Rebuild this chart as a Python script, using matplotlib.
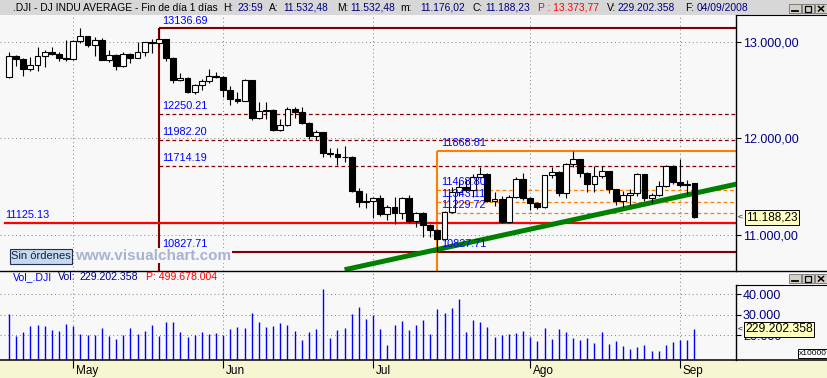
import numpy as np
import pandas as pd
import matplotlib
matplotlib.use("Agg")
import matplotlib.pyplot as plt
from matplotlib.patches import Rectangle
from matplotlib.lines import Line2D
from matplotlib.ticker import FuncFormatter

plt.rcParams['font.family'] = ['Liberation Sans', 'DejaVu Sans']

# --- datos: sesiones del .DJI 18/04/2008 - 04/09/2008 (sin festivos) ---
festivos = ['2008-05-26', '2008-07-04', '2008-09-01']
fechas = pd.bdate_range('2008-04-18', '2008-09-04')
fechas = fechas[~fechas.isin(pd.to_datetime(festivos))]
meses = {5: 'May', 6: 'Jun', 7: 'Jul', 8: 'Ago', 9: 'Sep'}

apertura = [12632, 12849, 12825, 12720, 12763, 12848, 12891, 12871, 12832, 12820,
            13010, 13058, 12969, 13020, 12815, 12866, 12745, 12876, 12832, 12898,
            12992, 12986, 13028, 12828, 12601, 12625, 12479, 12548, 12594, 12646,
            12638, 12503, 12402, 12391, 12604, 12209, 12280, 12289, 12083, 12141,
            12307, 12269, 12160, 12029, 12063, 11843, 11842, 11807, 11811, 11453,
            11346, 11350, 11382, 11215, 11288, 11231, 11384, 11147, 11229, 11100,
            11055, 10962, 11239, 11446, 11496, 11467, 11602, 11632, 11349, 11370,
            11131, 11397, 11584, 11378, 11326, 11284, 11616, 11656, 11432, 11734,
            11782, 11642, 11532, 11615, 11659, 11479, 11349, 11417, 11430, 11628,
            11386, 11413, 11502, 11715, 11543, 11516, 11532.48]
maximo = [12890, 12860, 12835, 12839, 12942, 12914, 12942, 12890, 13018, 13014,
          13139, 13059, 13052, 13035, 12914, 12870, 12897, 12880, 13000, 13000,
          13028, 13136.69, 13030, 12840, 12679, 12630, 12560, 12618, 12721, 12690,
          12640, 12542, 12480, 12610, 12605, 12379, 12379, 12300, 12200, 12321,
          12321, 12321, 12165, 12090, 12065, 11897, 11897, 11921, 11815, 11483,
          11431, 11390, 11414, 11310, 11390, 11395, 11414, 11241, 11241, 11110,
          11060, 11250, 11500, 11560, 11580, 11630, 11700, 11640, 11440, 11400,
          11410, 11600, 11640, 11390, 11340, 11625, 11700, 11660, 11740, 11867,
          11790, 11650, 11714, 11714, 11665, 11480, 11455, 11473, 11640, 11635,
          11437, 11559, 11720, 11720, 11783, 11570, 11532.48]
minimo = [12620, 12752, 12648, 12700, 12700, 12741, 12860, 12803, 12803, 12810,
          12983, 12942, 12855, 12811, 12793, 12707, 12740, 12776, 12828, 12855,
          12880, 12950, 12800, 12570, 12590, 12470, 12460, 12500, 12570, 12620,
          12425, 12345, 12370, 12385, 12190, 12200, 12200, 12075, 12079, 12130,
          12207, 12150, 11990, 11983, 11810, 11810, 11724, 11758, 11440, 11293,
          11276, 11179, 11200, 11155, 11114, 11169, 11120, 11079, 10976, 10982,
          10827.71, 10940, 11230, 11400, 11440, 11390, 11590, 11340, 11300, 11125,
          11125, 11380, 11360, 11260, 11270, 11280, 11590, 11400, 11385, 11700,
          11595, 11449, 11440, 11590, 11433, 11310, 11287, 11310, 11400, 11352,
          11334, 11400, 11500, 11530, 11500, 11410, 11176.02]
cierre = [12849, 12825, 12720, 12763, 12848, 12891, 12871, 12832, 12820, 13010,
          13058, 12969, 13020, 12815, 12866, 12745, 12876, 12832, 12898, 12992,
          12986, 13028, 12828, 12601, 12625, 12479, 12548, 12594, 12646, 12638,
          12503, 12402, 12391, 12604, 12209, 12280, 12289, 12083, 12141, 12307,
          12269, 12160, 12029, 12063, 11843, 11842, 11807, 11811, 11453, 11346,
          11350, 11382, 11215, 11288, 11231, 11384, 11147, 11229, 11100, 11055,
          10962, 11239, 11446, 11496, 11467, 11602, 11632, 11349, 11370, 11131,
          11397, 11584, 11378, 11326, 11284, 11616, 11656, 11432, 11734, 11782,
          11642, 11532, 11615, 11659, 11479, 11349, 11417, 11430, 11628, 11386,
          11413, 11502, 11715, 11543, 11516, 11532, 11188.23]
# volumen en unidades x10000
volumen = [30390, 19820, 21610, 24540, 25020, 24700, 22590, 22100, 25510, 24700,
           20630, 20150, 20150, 23560, 19820, 18200, 20150, 23560, 20630, 22100,
           25020, 19500, 26490, 26490, 21610, 19330, 20150, 21610, 20630, 21120,
           20150, 23070, 24050, 23560, 30880, 26490, 24050, 24540, 26000, 25020,
           22100, 17710, 21610, 23070, 42590, 18680, 22590, 23560, 30390, 33800,
           27950, 29900, 23070, 15270, 25020, 26970, 22590, 25020, 27460, 20630,
           32830, 30880, 33320, 37710, 21610, 27460, 26490, 24050, 19170, 20150,
           20630, 21120, 22100, 19170, 17220, 23560, 18200, 23070, 21610, 18680,
           17710, 18680, 16240, 21610, 15750, 17220, 14800, 13340, 14300, 15270,
           12360, 12360, 15270, 16730, 17710, 17710, 22920]
vol_ultimo = 229202358
vol_p = 499678004
valor_p = 13373.77

fibo1_inicio = 21
fibo1_niveles = [13136.69, 12250.21, 11982.20, 11714.19, 10827.71]
fibo2_inicio = 60
fibo2_niveles = [11868.81, 11468.80, 11343.11, 11229.72, 10827.71]
soporte = 11125.13
tendencia_x = [47, 102]
tendencia_y = [10640, 11528]


def fmt_es(v, dec):
    s = f"{v:,.{dec}f}"
    return s.replace(',', 'X').replace('.', ',').replace('X', '.')


# --- figura en pixeles ---
W, H = 828, 378
BG = '#f8f8f8'


def fx(px):
    return px / W


def fy(py):
    return 1 - py / H


fig = plt.figure(figsize=(W / 100, H / 100), dpi=100, facecolor=BG)

x = np.arange(len(cierre))
o = np.array(apertura)
c = np.array(cierre)
inicio_mes = [i for i in range(1, len(fechas)) if fechas[i].month != fechas[i - 1].month]
xlim = (-9 / 7.14, (736 - 9) / 7.14)
gris = dict(color='#808080', linestyle=(0, (1, 3)), linewidth=0.7)

# panel de precios
ax = fig.add_axes([0, fy(270.7), fx(736), (270.7 - 15) / H])
ax.set_facecolor(BG)
ax.set_xlim(xlim)
ax.set_ylim(10630, 13276)
ax.set_axisbelow(True)
ax.grid(True, **gris)
ax.set_xticks(inicio_mes)
ax.tick_params(axis='x', length=0, labelbottom=False)
ax.yaxis.tick_right()
ax.set_yticks([11000, 12000, 13000])
ax.yaxis.set_major_formatter(FuncFormatter(lambda v, p: fmt_es(v, 2)))
ax.tick_params(axis='y', length=3.5, width=0.8, colors='black', labelcolor='#000080',
               labelsize=9, pad=1.5)
for s in ['left', 'top', 'bottom']:
    ax.spines[s].set_visible(False)
ax.spines['right'].set_linewidth(1)

y0 = ax.get_ylim()[0]
xr = xlim[1]

# fibonacci granate
ax.vlines(fibo1_inicio, y0, fibo1_niveles[0], color='#800000', lw=1.5, zorder=2)
ax.hlines([fibo1_niveles[0], fibo1_niveles[-1]], fibo1_inicio, xr, color='#800000', lw=1.5, zorder=2)
ax.hlines(fibo1_niveles[1:-1], fibo1_inicio, xr, color='#800000', lw=0.9,
          linestyles=[(0, (3, 2.2))], zorder=2)
# fibonacci naranja
ax.vlines(fibo2_inicio, y0, fibo2_niveles[0], color='#ff8000', lw=1.5, zorder=2)
ax.hlines(fibo2_niveles[0], fibo2_inicio, xr, color='#ff8000', lw=1.5, zorder=2)
ax.hlines(fibo2_niveles[1:-1], fibo2_inicio, xr, color='#ff8000', lw=0.9,
          linestyles=[(0, (3, 2.2))], zorder=2)
# soporte rojo y tendencia verde
ax.axhline(soporte, xmin=5 / 736, color='#ff0000', lw=1.6, zorder=2)
ax.plot(tendencia_x, tendencia_y, color='#008000', lw=3.6, solid_capstyle='butt', zorder=3)

# velas
alcista = c >= o
ax.vlines(x, minimo, maximo, color='black', lw=0.8, zorder=4)
ax.bar(x, np.abs(c - o), bottom=np.minimum(o, c), width=0.82,
       color=np.where(alcista, 'white', 'black'), edgecolor='black', linewidth=0.8, zorder=5)

# etiquetas de niveles
for ini, niveles in [(fibo1_inicio, fibo1_niveles), (fibo2_inicio, fibo2_niveles)]:
    for lvl in niveles:
        ax.annotate(f"{lvl:.2f}", xy=(ini, lvl), xytext=(2.5, 2), textcoords='offset points',
                    color='#0000ff', fontsize=7.8, va='bottom', ha='left', zorder=8)
ax.annotate(f"{soporte:.2f}", xy=(0, soporte), xycoords=('axes fraction', 'data'),
            xytext=(3.6, 2), textcoords='offset points', color='#0000ff', fontsize=7.8,
            va='bottom', ha='left', zorder=8)

# panel de volumen
axv = fig.add_axes([0, fy(360), fx(736), (360 - 271) / H])
axv.set_facecolor(BG)
axv.set_xlim(xlim)
axv.set_ylim(7950, 51370)
axv.set_axisbelow(True)
axv.grid(True, **gris)
axv.vlines(x, 0, volumen, color='#0000ff', lw=1.0)
axv.yaxis.tick_right()
axv.set_yticks([20000, 30000, 40000])
axv.yaxis.set_major_formatter(FuncFormatter(lambda v, p: fmt_es(v, 0)))
axv.tick_params(axis='y', length=3.5, width=0.8, colors='black', labelcolor='#000080',
                labelsize=9, pad=1.5)
axv.set_xticks(inicio_mes)
axv.tick_params(axis='x', direction='out', length=5.8, width=0.8, color='black', labelbottom=False)
for s in axv.spines.values():
    s.set_visible(False)
for i in inicio_mes:
    axv.annotate(meses[fechas[i].month], xy=(i, 0), xycoords=('data', 'axes fraction'),
                 xytext=(1.8, -3.6), textcoords='offset points', ha='left', va='top', fontsize=8.5)

# --- adornos de la ventana ---
fig.add_artist(Rectangle((0, fy(15)), 1, 15 / H, transform=fig.transFigure,
                         facecolor='#d7d7d7', edgecolor='none', zorder=1))
fig.add_artist(Rectangle((0, 0), 1, 18 / H, transform=fig.transFigure,
                         facecolor='#f6f6d2', edgecolor='none', zorder=-1))


def linea(xs, ys, **kw):
    fig.add_artist(Line2D([fx(v) for v in xs], [fy(v) for v in ys],
                          transform=fig.transFigure, **kw))


linea([736, 828], [15, 15], color='black', lw=0.8)
linea([0, 828], [270.7, 270.7], color='black', lw=1.0)
linea([736, 828], [285, 285], color='black', lw=0.8)
linea([736.5, 736.5], [285, 360], color='black', lw=1.0)
linea([0, 828], [360.3, 360.3], color='black', lw=1.1)


def botones(yb):
    for x0 in [789, 802, 815]:
        fig.add_artist(Rectangle((fx(x0), fy(yb + 9)), 12 / W, 9 / H, transform=fig.transFigure,
                                 facecolor='#d4d0c8', edgecolor='#707070', lw=0.6, zorder=3))
    linea([792, 798], [yb + 7, yb + 7], color='black', lw=1.3, zorder=4)
    fig.add_artist(Rectangle((fx(805), fy(yb + 7.5)), 6 / W, 5.5 / H, transform=fig.transFigure,
                             facecolor='none', edgecolor='black', lw=0.9, zorder=4))
    linea([818.5, 823.5], [yb + 2.5, yb + 7], color='black', lw=1.1, zorder=4)
    linea([818.5, 823.5], [yb + 7, yb + 2.5], color='black', lw=1.1, zorder=4)


botones(4)
botones(274)

# cabecera
navy = '#000080'
cabecera = [(13, '.DJI - DJ INDU AVERAGE - Fin de día 1 días', 'black'),
            (223, 'H:', 'black'), (238, '23:59', navy),
            (269, 'A:', 'black'), (283, fmt_es(apertura[-1], 2), navy),
            (337, 'M:', 'black'), (350, fmt_es(maximo[-1], 2), navy),
            (400, 'm:', 'black'), (420, fmt_es(minimo[-1], 2), navy),
            (473, 'C:', 'black'), (485, fmt_es(cierre[-1], 2), navy),
            (538, 'P : ' + fmt_es(valor_p, 2), '#ff0000'),
            (607, 'V:', 'black'), (618, fmt_es(vol_ultimo, 0), navy),
            (685, 'F:', 'black'), (697, fechas[-1].strftime('%d/%m/%Y'), navy)]
for px, txt, col in cabecera:
    fig.text(fx(px), fy(8), txt, color=col, fontsize=7.4, va='center', ha='left', zorder=5)

cab_vol = [(13, 'Vol_.DJI', '#0000ff'), (58, 'Vol:', navy),
           (80, fmt_es(vol_ultimo, 0), navy), (146, 'P: ' + fmt_es(vol_p, 0), '#ff0000')]
for px, txt, col in cab_vol:
    fig.text(fx(px), fy(277.5), txt, color=col, fontsize=7.6, va='center', ha='left', zorder=5)

# valores actuales
fig.text(fx(738), fy(217), '<', fontsize=6, va='center', ha='left')
fig.text(fx(746), fy(217.5), fmt_es(cierre[-1], 2), fontsize=8.5, va='center', ha='left',
         bbox=dict(boxstyle='square,pad=0.12', fc='#ffffc0', ec='black', lw=0.7))
fig.text(fx(738), fy(329), '<', fontsize=6, va='center', ha='left')
fig.text(fx(745), fy(329.5), fmt_es(vol_ultimo, 0), fontsize=8.8, va='center', ha='left',
         bbox=dict(boxstyle='square,pad=0.12', fc='#ffffc0', ec='black', lw=0.7))
fig.text(fx(813), fy(353.5), 'x10000', fontsize=6, va='center', ha='center',
         bbox=dict(boxstyle='square,pad=0.15', fc='white', ec='black', lw=0.7))

# boton y marca de agua
fig.add_artist(Rectangle((fx(9.5), fy(264)), 62 / W, 15 / H, transform=fig.transFigure,
                         facecolor='#c6d9f0', edgecolor='#1f2f4f', lw=0.8, zorder=10))
fig.text(fx(40.5), fy(256.3), 'Sin órdenes', ha='center', va='center', fontsize=8,
         color='#10203a', zorder=11)
fig.text(fx(75), fy(255.5), 'www.visualchart.com', ha='left', va='center', fontsize=11,
         weight='bold', color='#a8b2d3', zorder=9,
         bbox=dict(boxstyle='square,pad=0.05', fc=BG, ec='none'))

fig.savefig('out.png', dpi=100, facecolor=BG)
